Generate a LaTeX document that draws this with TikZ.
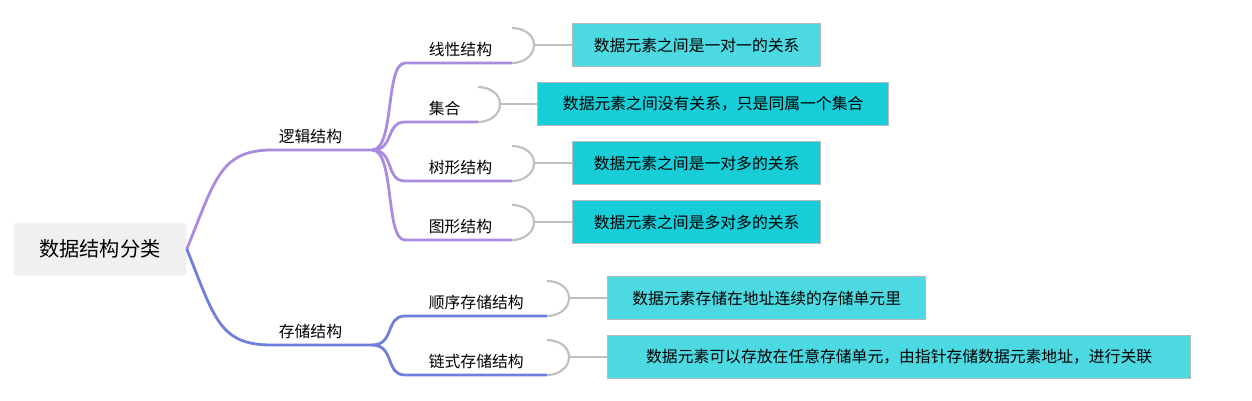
\documentclass[tikz,border=0pt]{standalone}
\usepackage{fontspec}
\setmainfont{Noto Sans CJK SC}
\usetikzlibrary{positioning}
\definecolor{logic}{HTML}{A98BE0}
\definecolor{store}{HTML}{6F80DC}
\definecolor{cyanA}{HTML}{4DD9E2}
\definecolor{cyanB}{HTML}{17CDD8}
\begin{document}
\begin{tikzpicture}[x=0.02cm, y=-0.02cm,
  root/.style={fill=gray!12, rounded corners=2pt, minimum width=3.46cm, minimum height=1.06cm, font=\fontsize{11.5}{12}\selectfont},
  label/.style={font=\fontsize{9}{10}\selectfont, anchor=south west, inner sep=2pt},
  desc/.style={draw=gray!55, line width=0.8pt, anchor=west, minimum height=0.86cm, inner xsep=8pt, font=\fontsize{9}{10}\selectfont},
  branch/.style={line width=1.6pt},
  brace/.style={draw=gray!50, line width=1.2pt}]
  \useasboundingbox (0,0) rectangle (1252,400);

  % root
  \node[root] (root) at (100,249) {数据结构分类};

  % first level
  \coordinate (lgA) at (272,150); \coordinate (lgB) at (372,150);
  \coordinate (stA) at (272,345); \coordinate (stB) at (372,345);
  \node[label] (lg) at (275,148) {逻辑结构};
  \node[label] (st) at (275,343) {存储结构};
  \draw[branch, logic] (root.east) .. controls (215,180) and (220,150) .. (lgA) -- (lgB);
  \draw[branch, store] (root.east) .. controls (215,320) and (220,345) .. (stA) -- (stB);

  % second level, logic
  \foreach \n/\y/\e/\t in {a/63/512/线性结构, b/122/478/集合, c/181/512/树形结构, d/240/512/图形结构}{
    \coordinate (u\n) at (405,\y); \coordinate (v\n) at (\e,\y);
    \node[label] (l\n) at (425,\y-2) {\t};
    \draw[branch, logic] (lgB) .. controls (395,150) and (385,\y) .. (u\n) -- (v\n);
  }
  % second level, storage
  \foreach \n/\y/\t in {e/316/顺序存储结构, f/375/链式存储结构}{
    \coordinate (u\n) at (405,\y); \coordinate (v\n) at (547,\y);
    \node[label] (l\n) at (425,\y-2) {\t};
    \draw[branch, store] (stB) .. controls (395,345) and (385,\y) .. (u\n) -- (v\n);
  }

  % descriptions
  \node[desc, fill=cyanA, minimum width=4.96cm] (da) at (572,45) {数据元素之间是一对一的关系};
  \node[desc, fill=cyanB, minimum width=7.02cm] (db) at (537,104) {数据元素之间没有关系，只是同属一个集合};
  \node[desc, fill=cyanB, minimum width=4.96cm] (dc) at (572,163) {数据元素之间是一对多的关系};
  \node[desc, fill=cyanB, minimum width=4.96cm] (dd) at (572,222) {数据元素之间是多对多的关系};
  \node[desc, fill=cyanA, minimum width=6.36cm] (de) at (607,298) {数据元素存储在地址连续的存储单元里};
  \node[desc, fill=cyanA, minimum width=11.66cm] (df) at (607,357) {数据元素可以存放在任意存储单元，由指针存储数据元素地址，进行关联};

  % braces
  \foreach \n in {a,b,c,d,e,f}{
    \draw[brace] (v\n) ++(0,-35) coordinate (t\n) to[out=0,in=90] ++(22,17) coordinate (m\n)
      to[out=-90,in=0] (v\n);
    \draw[brace] (m\n) -- (d\n.west);
  }
\end{tikzpicture}
\end{document}
